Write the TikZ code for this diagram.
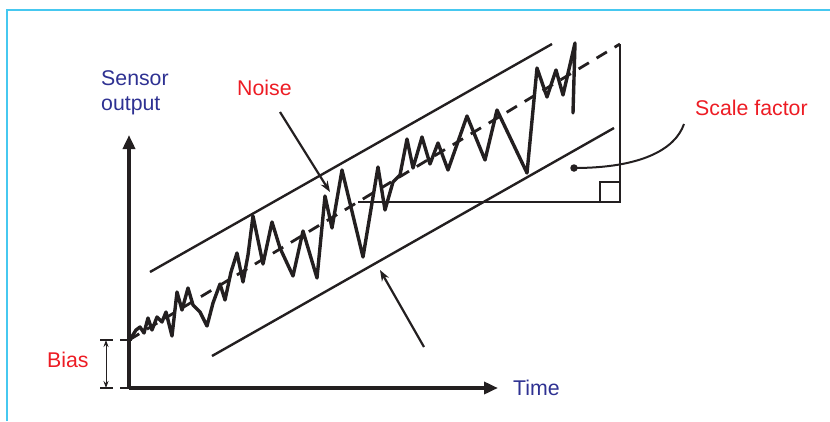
\documentclass[tikz,border=0pt]{standalone}
\usepackage{fontspec}
\setmainfont{Liberation Sans}
\usetikzlibrary{arrows.meta}
\definecolor{lblred}{RGB}{237,28,36}
\definecolor{lblblue}{RGB}{46,49,146}
\definecolor{framecyan}{RGB}{70,200,240}
\definecolor{ink}{RGB}{35,31,32}
\begin{document}
\begin{tikzpicture}[x=1pt,y=-1pt,
  lbl/.style={inner sep=0pt, anchor=base west, font=\fontsize{21.3}{25}\selectfont},
  redlbl/.style={lbl, text=lblred},
  bluelbl/.style={lbl, text=lblblue},
  axisline/.style={draw=ink, line width=3.8pt, -{Triangle[length=14pt,width=12pt]}},
  boundline/.style={draw=ink, line width=2.4pt},
  pointer/.style={draw=ink, line width=2.2pt, -{Stealth[length=11pt,width=8pt]}},
  trendline/.style={draw=ink, line width=2.8pt, dash pattern=on 12pt off 9pt},
  noiseline/.style={draw=ink, line width=3.4pt, line join=round, line cap=round},
  frameline/.style={draw=framecyan, line width=1.5pt}]
\useasboundingbox (0,0) rectangle (830,421);

% frame
\coordinate (fbl) at (7,421);
\coordinate (ftl) at (7,10);
\coordinate (ftr) at (830,10);
\draw[frameline] (fbl) -- (ftl) -- (ftr);

% axes
\coordinate (o) at (129,388);
\coordinate (ytip) at (129,135);
\coordinate (xtip) at (498,388);
\draw[axisline] (o) -- (ytip);
\draw[axisline] (o) -- (xtip);

% labels
\node[bluelbl, align=left, anchor=north west] (sensor) at (101,70) {Sensor\\output};
\node[bluelbl] (time) at (513,395) {Time};
\node[redlbl] (noise) at (237,95) {Noise};
\node[redlbl] (bias) at (47,367) {Bias};
\node[redlbl] (scale) at (695,115) {Scale factor};

% bias dimension
\coordinate (bt) at (106,340);
\coordinate (bb) at (106,388);
\coordinate (btl) at (100,340);
\coordinate (btr) at (113,340);
\coordinate (bbl) at (100,388);
\coordinate (bbr) at (113,388);
\coordinate (bt2) at (120,340);
\coordinate (bt3) at (132,340);
\coordinate (bb2) at (120,388);
\draw[ink, line width=1pt, {Stealth[length=7pt,width=5pt]}-{Stealth[length=7pt,width=5pt]}] (bt) -- (bb);
\draw[ink, line width=1.3pt] (btl) -- (btr) (bbl) -- (bbr);
\draw[ink, line width=1.6pt] (bt2) -- (bt3) (bb2) -- (o);

% bounds
\coordinate (u1) at (150,272);
\coordinate (u2) at (552,44);
\coordinate (l1) at (212,356);
\coordinate (l2) at (614,128);
\draw[boundline] (u1) -- (u2);
\draw[boundline] (l1) -- (l2);

% trend (dashed) and scale-factor triangle
\coordinate (t1) at (129,340);
\coordinate (t2) at (620,44);
\coordinate (tri1) at (358,202);
\coordinate (tri2) at (620,202);
\draw[trendline] (t1) -- (t2);
\draw[boundline] (tri1) -- (tri2) -- (t2);
\coordinate (sq1) at (600,202);
\coordinate (sq2) at (600,182);
\coordinate (sq3) at (620,182);
\draw[ink, line width=1.2pt] (sq1) -- (sq2) -- (sq3);

% noise
\draw[noiseline] (131,338) -- (136,330) -- (140,327) -- (144,333) -- (148,318) -- (152,330) -- (157,317) -- (162,322) -- (166,312) -- (172,336) -- (177,292) -- (182,310) -- (188,288) -- (193,305) -- (200,312) -- (207,326) -- (213,303) -- (220,284) -- (225,300) -- (231,272) -- (237,253) -- (243,282) -- (248,255) -- (253,216) -- (263,264) -- (272,222) -- (280,248) -- (293,276) -- (303,231) -- (317,278) -- (325,196) -- (332,228) -- (342,170) -- (363,257) -- (378,167) -- (385,210) -- (393,182) -- (400,175) -- (407,139) -- (413,168) -- (422,137) -- (430,164) -- (438,143) -- (448,170) -- (467,116) -- (485,160) -- (497,110) -- (527,173) -- (537,68) -- (547,97) -- (556,70) -- (563,95) -- (575,43) -- (573,113);

% pointers
\coordinate (n1) at (280,112);
\coordinate (n2) at (330,192);
\draw[pointer] (n1) -- (n2);
\coordinate (p1) at (424,347);
\coordinate (p2) at (380,270);
\draw[pointer] (p1) -- (p2);

% scale factor leader
\node[circle, fill=ink, inner sep=0pt, minimum size=7.5pt] (dot) at (574,168) {};
\coordinate (sfend) at (684,124);
\draw[ink, line width=2pt] (dot.center) .. controls (640,168) and (675,150) .. (sfend);
\end{tikzpicture}
\end{document}
